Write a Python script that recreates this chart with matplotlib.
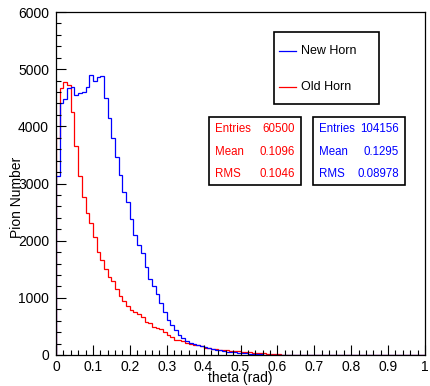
import numpy as np
import matplotlib
matplotlib.use('Agg')
import matplotlib.pyplot as plt
from matplotlib.patches import Rectangle

plt.rcParams['font.family'] = ['Liberation Sans', 'DejaVu Sans']

# pion counts per 0.01 rad bin, theta from 0 to 1
old_horn = [3790, 4665, 4770, 4720, 4256, 3656, 3131, 2758, 2478, 2314,
            2070, 1807, 1662, 1499, 1365, 1290, 1150, 1040, 940, 865,
            790, 745, 725, 670, 585, 555, 485, 475, 450, 410,
            350, 320, 265, 270, 250, 205, 200, 175, 170, 150,
            130, 117, 110, 100, 92, 87, 80, 75, 68, 62,
            58, 52, 45, 40, 35, 30, 27, 22, 18, 14,
            10, 8, 6, 4, 3, 2, 2, 1, 1, 1] + [0] * 30
new_horn = [3130, 4400, 4470, 4670, 4680, 4550, 4580, 4600, 4680, 4900,
            4800, 4870, 4880, 4490, 4140, 3800, 3470, 3150, 2850, 2680,
            2380, 2100, 1925, 1780, 1545, 1330, 1200, 1060, 910, 760,
            620, 525, 440, 350, 290, 245, 216, 200, 175, 157,
            140, 120, 105, 92, 80, 70, 60, 52, 45, 38,
            32, 27, 22, 18, 14, 11, 8, 6, 4, 3,
            2, 2, 1, 1] + [0] * 36
edges = np.linspace(0, 1, 101)

old_stats = [('Entries', '60500'), ('Mean', '0.1096'), ('RMS', '0.1046')]
new_stats = [('Entries', '104156'), ('Mean', '0.1295'), ('RMS', '0.08978')]

fig = plt.figure(figsize=(4.30, 3.86), dpi=100)
ax = fig.add_axes([56 / 430, 1 - 355 / 386, 369 / 430, 343 / 386])

ax.stairs(old_horn, edges, baseline=0, color='red', lw=0.9)
ax.stairs(new_horn, edges, baseline=0, color='blue', lw=0.9)

ax.set_xlim(0, 1)
ax.set_ylim(0, 6000)
ax.set_xticks(np.arange(0, 1.01, 0.1))
ax.set_xticklabels(['0', '0.1', '0.2', '0.3', '0.4', '0.5', '0.6', '0.7', '0.8', '0.9', '1'])
ax.set_xticks(np.arange(0, 1.001, 0.02), minor=True)
ax.set_yticks(np.arange(0, 6001, 1000))
ax.set_yticks(np.arange(0, 6001, 200), minor=True)
ax.tick_params(which='both', direction='in', top=False, right=False, width=0.8, labelsize=10)
ax.tick_params(which='major', length=7)
ax.tick_params(which='minor', length=3.6)
ax.tick_params(axis='y', pad=5)
ax.tick_params(axis='x', pad=3.5)
for s in ax.spines.values():
    s.set_linewidth(0.9)

ax.set_xlabel('theta (rad)', fontsize=10)
ax.set_ylabel('Pion Number', fontsize=10)
ax.xaxis.set_label_coords(0.5, -0.047)
ax.yaxis.set_label_coords(-0.086, 0.46)


def px(x, y):
    return (x / 430, 1 - y / 386)


def box(x0, y0, x1, y1):
    r = Rectangle(px(x0, y1), (x1 - x0) / 430, (y1 - y0) / 386,
                  transform=fig.transFigure, fill=True, facecolor='white',
                  edgecolor='black', lw=1.2, zorder=5)
    fig.add_artist(r)


# legend box
box(274, 32, 379, 104)
for yy, col, lab in [(51, 'blue', 'New Horn'), (87, 'red', 'Old Horn')]:
    fig.add_artist(plt.Line2D([279 / 430, 296 / 430], [1 - yy / 386] * 2,
                              color=col, lw=0.9, zorder=6))
    fig.text(*px(301, yy), lab, fontsize=9, va='center', ha='left', zorder=6)

# stat boxes
for (x0, x1, col, stats) in [(209, 301, 'red', old_stats), (313, 405, 'blue', new_stats)]:
    box(x0, 117, x1, 185)
    for (lab, val), yy in zip(stats, [129, 152, 174]):
        fig.text(*px(x0 + 6, yy), lab, fontsize=8.3, color=col, va='center', ha='left', zorder=6)
        fig.text(*px(x1 - 6, yy), val, fontsize=8.3, color=col, va='center', ha='right', zorder=6)

fig.savefig('out.png', dpi=100)
